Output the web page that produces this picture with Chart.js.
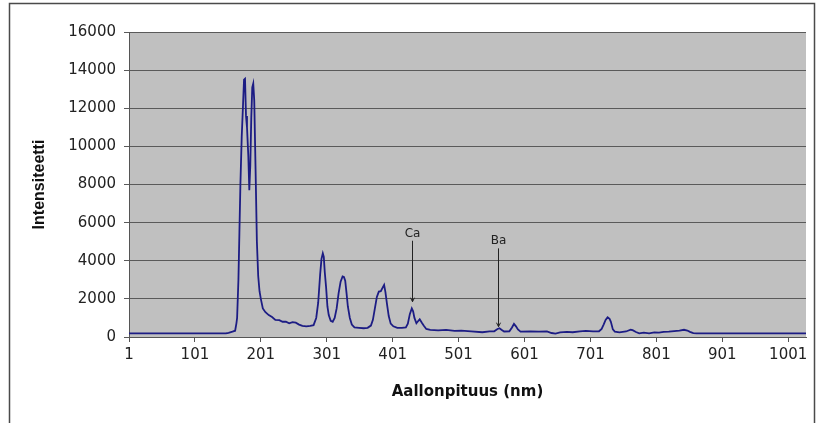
<!DOCTYPE html>
<html lang="fi">
<head>
<meta charset="UTF-8">
<title>Spektri</title>
<script src="https://cdn.jsdelivr.net/npm/chart.js"></script>
<style>
  body { margin: 0; background: #fff; }
  .wrap { position: relative; width: 824px; height: 423px; }
</style>
</head>
<body>
<div class="wrap"><canvas id="spectrum" width="824" height="423"></canvas></div>
<script>
// aallonpituus (nm) ja intensiteetti, luettu kuvasta
const wavelengths = [
  1, 50, 100, 148, 152, 158, 162, 164, 165, 167, 168.5, 170, 172, 174, 175.5, 177, 178.5, 180, 182, 183.5,
  185, 186.5, 188, 189.5, 191, 193, 195, 197, 199, 201, 204, 208, 213, 218, 223, 229, 234, 239, 244, 249,
  254, 259, 264, 270, 276, 281, 285, 288, 291, 293, 295, 296.5, 298, 300, 302, 304, 307, 310, 313, 316,
  319, 322, 325, 327, 329, 331, 333, 336, 339, 343, 350, 357, 363, 368, 371, 374, 377, 380, 383, 386,
  388, 390, 392.5, 395, 398, 402, 408, 415, 421, 424, 427, 430, 432, 434, 437, 440, 442, 445, 448, 452,
  458, 470, 482, 495, 505, 520, 537, 548, 555, 560, 563, 566, 570, 578, 582, 585, 588, 591, 595, 610,
  623, 635, 642, 648, 655, 665, 674, 685, 694, 705, 714, 718, 721, 724, 727, 730, 732, 735, 738, 745,
  755, 762, 765, 770, 775, 782, 790, 798, 805, 812, 820, 828, 836, 843, 848, 852, 857, 862, 900, 1000, 1028
];
const intensities = [
  190, 190, 190, 190, 220, 280, 330, 730, 1000, 3000, 5500, 8000, 10500, 12200, 13500, 13550, 11600, 11000, 9500, 7700,
  9000, 11500, 13100, 13300, 12400, 8800, 5000, 3200, 2400, 2000, 1500, 1300, 1150, 1050, 900, 880, 800, 800, 720, 780,
  750, 650, 580, 560, 580, 620, 1000, 1800, 3300, 4100, 4390, 4200, 3400, 2600, 1600, 1150, 850, 800, 1000, 1500,
  2300, 2900, 3180, 3150, 2950, 2300, 1600, 1000, 650, 500, 480, 460, 480, 600, 900, 1500, 2100, 2380, 2400, 2600,
  2730, 2350, 1700, 1100, 700, 560, 480, 480, 500, 700, 1200, 1500, 1350, 1000, 720, 850, 930, 760, 600, 420,
  370, 350, 370, 320, 330, 300, 250, 290, 300, 420, 460, 380, 290, 300, 500, 690, 560, 400, 280, 290,
  280, 290, 210, 180, 240, 270, 250, 300, 320, 290, 300, 420, 650, 900, 1030, 950, 800, 400, 280, 240,
  290, 380, 360, 260, 190, 230, 190, 240, 230, 270, 280, 310, 330, 380, 340, 270, 200, 190, 190, 190, 190
];
const xTickValues = [1, 101, 201, 301, 401, 501, 601, 701, 801, 901, 1001];

// nuolimerkinnät (alkuaine, aallonpituus, nuolen kärki, nuolen yläpää)
const markerLabels = ['Ca', 'Ba'];
const markerWavelengths = [430, 561];
const markerTips = [1850, 540];
const markerTops = [5050, 4650];

const plotBackground = {
  id: 'plotBackground',
  beforeDraw(chart) {
    const { ctx, chartArea: a } = chart;
    ctx.save();
    ctx.fillStyle = '#c0c0c0';
    ctx.fillRect(a.left, a.top, a.right - a.left, a.bottom - a.top);
    ctx.restore();
  },
  afterDraw(chart) {
    const { ctx, scales } = chart;
    ctx.save();
    // nuolet ja tekstit
    ctx.strokeStyle = '#222';
    ctx.fillStyle = '#222';
    ctx.lineWidth = 1;
    ctx.font = '12px "DejaVu Sans"';
    ctx.textAlign = 'center';
    ctx.textBaseline = 'middle';
    markerLabels.forEach((lbl, i) => {
      const x = Math.round(scales.x.getPixelForValue(markerWavelengths[i])) + 0.5;
      const yTip = scales.y.getPixelForValue(markerTips[i]);
      const yTop = scales.y.getPixelForValue(markerTops[i]);
      ctx.beginPath();
      ctx.moveTo(x, yTop);
      ctx.lineTo(x, yTip);
      ctx.stroke();
      ctx.beginPath();
      ctx.moveTo(x - 2, yTip - 4);
      ctx.lineTo(x, yTip);
      ctx.lineTo(x + 2, yTip - 4);
      ctx.stroke();
      ctx.fillText(lbl, x, yTop - 7);
    });
    // ulkoreunus
    ctx.strokeStyle = '#4a4a4a';
    ctx.lineWidth = 1.5;
    ctx.strokeRect(9.5, 3.5, 805, 440);
    ctx.restore();
  }
};

new Chart(document.getElementById('spectrum'), {
  type: 'line',
  data: {
    datasets: [{
      data: wavelengths.map((w, i) => ({ x: w, y: intensities[i] })),
      borderColor: '#1c1c84',
      borderWidth: 1.8,
      pointRadius: 0,
      tension: 0,
      fill: false
    }]
  },
  options: {
    responsive: false,
    animation: false,
    layout: { padding: { left: 0, top: 32, right: 18, bottom: 0 } },
    plugins: { legend: { display: false }, tooltip: { enabled: false } },
    scales: {
      x: {
        type: 'linear',
        min: 1,
        max: 1028,
        afterBuildTicks: (s) => { s.ticks = xTickValues.map(v => ({ value: v })); },
        afterFit: (s) => { s.height = 86; },
        ticks: {
          color: '#222', font: { family: 'DejaVu Sans', size: 15 }, padding: 4, maxRotation: 0, autoSkip: false,
          callback: (v) => String(v)
        },
        grid: { drawOnChartArea: false, drawTicks: true, tickLength: 5, color: '#555' },
        border: { color: '#555', width: 1 },
        title: {
          display: true,
          text: 'Aallonpituus (nm)',
          color: '#111',
          font: { family: 'DejaVu Sans', size: 15, weight: 'bold' },
          padding: { top: 0, bottom: 22 }
        }
      },
      y: {
        min: 0,
        max: 16000,
        ticks: {
          stepSize: 2000, color: '#222', font: { family: 'DejaVu Sans', size: 15 }, padding: 8,
          callback: (v) => String(v)
        },
        afterFit: (s) => { s.width = 129; },
        grid: { color: '#5a5a5a', lineWidth: 1, tickLength: 5 },
        border: { color: '#555', width: 1 },
        title: {
          display: true,
          text: 'Intensiteetti',
          color: '#111',
          font: { family: 'Liberation Sans', size: 16, weight: 'bold' },
          padding: { top: 30, bottom: 0 }
        }
      }
    }
  },
  plugins: [plotBackground]
});
</script>
</body>
</html>
